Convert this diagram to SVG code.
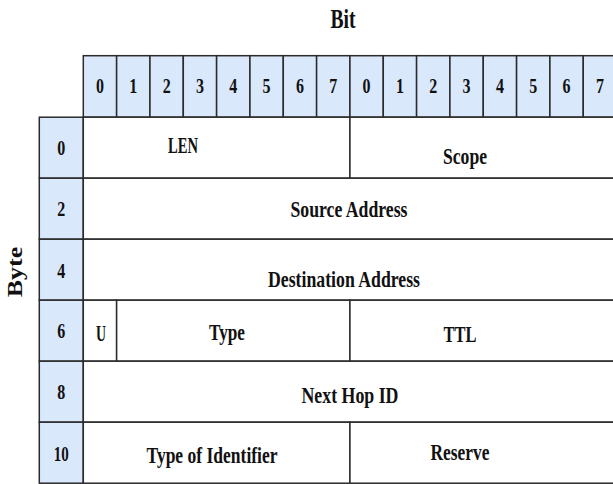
<svg xmlns="http://www.w3.org/2000/svg" width="613" height="484" viewBox="0 0 613 484">
<style>
.hd{fill:#dae8fc;stroke:#2b2b2b;stroke-width:1.5}
.fd{fill:#ffffff;stroke:#2b2b2b;stroke-width:1.5}
.t{font-family:"Liberation Serif","Times New Roman",serif;font-weight:bold;fill:#111;text-anchor:middle}
.d{font-size:20px}
.b{font-size:21px}
.f{font-size:23px}
</style>
<rect x="0" y="0" width="613" height="484" fill="#ffffff"/>
<text class="t" x="343" y="28" font-size="27" textLength="25" lengthAdjust="spacingAndGlyphs">Bit</text>
<text class="t" font-size="26" transform="translate(22,272) scale(0.8,1) rotate(-90)" x="0" y="0">Byte</text>
<g id="bit-header">
<g id="bit-0a"><rect class="hd" x="83.3" y="55.7" width="33.33" height="61.5"/><text class="t d" x="99.97" y="93" textLength="8" lengthAdjust="spacingAndGlyphs">0</text></g>
<g id="bit-1a"><rect class="hd" x="116.63" y="55.7" width="33.33" height="61.5"/><text class="t d" x="133.3" y="93" textLength="8" lengthAdjust="spacingAndGlyphs">1</text></g>
<g id="bit-2a"><rect class="hd" x="149.96" y="55.7" width="33.33" height="61.5"/><text class="t d" x="166.63" y="93" textLength="8" lengthAdjust="spacingAndGlyphs">2</text></g>
<g id="bit-3a"><rect class="hd" x="183.29" y="55.7" width="33.33" height="61.5"/><text class="t d" x="199.96" y="93" textLength="8" lengthAdjust="spacingAndGlyphs">3</text></g>
<g id="bit-4a"><rect class="hd" x="216.62" y="55.7" width="33.33" height="61.5"/><text class="t d" x="233.29" y="93" textLength="8" lengthAdjust="spacingAndGlyphs">4</text></g>
<g id="bit-5a"><rect class="hd" x="249.95" y="55.7" width="33.33" height="61.5"/><text class="t d" x="266.62" y="93" textLength="8" lengthAdjust="spacingAndGlyphs">5</text></g>
<g id="bit-6a"><rect class="hd" x="283.28" y="55.7" width="33.33" height="61.5"/><text class="t d" x="299.95" y="93" textLength="8" lengthAdjust="spacingAndGlyphs">6</text></g>
<g id="bit-7a"><rect class="hd" x="316.61" y="55.7" width="33.33" height="61.5"/><text class="t d" x="333.28" y="93" textLength="8" lengthAdjust="spacingAndGlyphs">7</text></g>
<g id="bit-0b"><rect class="hd" x="349.94" y="55.7" width="33.33" height="61.5"/><text class="t d" x="366.61" y="93" textLength="8" lengthAdjust="spacingAndGlyphs">0</text></g>
<g id="bit-1b"><rect class="hd" x="383.27" y="55.7" width="33.33" height="61.5"/><text class="t d" x="399.94" y="93" textLength="8" lengthAdjust="spacingAndGlyphs">1</text></g>
<g id="bit-2b"><rect class="hd" x="416.6" y="55.7" width="33.33" height="61.5"/><text class="t d" x="433.27" y="93" textLength="8" lengthAdjust="spacingAndGlyphs">2</text></g>
<g id="bit-3b"><rect class="hd" x="449.93" y="55.7" width="33.33" height="61.5"/><text class="t d" x="466.6" y="93" textLength="8" lengthAdjust="spacingAndGlyphs">3</text></g>
<g id="bit-4b"><rect class="hd" x="483.26" y="55.7" width="33.33" height="61.5"/><text class="t d" x="499.93" y="93" textLength="8" lengthAdjust="spacingAndGlyphs">4</text></g>
<g id="bit-5b"><rect class="hd" x="516.59" y="55.7" width="33.33" height="61.5"/><text class="t d" x="533.26" y="93" textLength="8" lengthAdjust="spacingAndGlyphs">5</text></g>
<g id="bit-6b"><rect class="hd" x="549.92" y="55.7" width="33.33" height="61.5"/><text class="t d" x="566.59" y="93" textLength="8" lengthAdjust="spacingAndGlyphs">6</text></g>
<g id="bit-7b"><rect class="hd" x="583.25" y="55.7" width="33.33" height="61.5"/><text class="t d" x="599.92" y="93" textLength="8" lengthAdjust="spacingAndGlyphs">7</text></g>
</g>
<g id="byte-header">
<g id="byte-0"><rect class="hd" x="39.3" y="117.2" width="44" height="61"/><text class="t b" x="61.3" y="155" textLength="8" lengthAdjust="spacingAndGlyphs">0</text></g>
<g id="byte-2"><rect class="hd" x="39.3" y="178.2" width="44" height="61"/><text class="t b" x="61.3" y="216" textLength="8" lengthAdjust="spacingAndGlyphs">2</text></g>
<g id="byte-4"><rect class="hd" x="39.3" y="239.2" width="44" height="61"/><text class="t b" x="61.3" y="278" textLength="8" lengthAdjust="spacingAndGlyphs">4</text></g>
<g id="byte-6"><rect class="hd" x="39.3" y="300.2" width="44" height="61"/><text class="t b" x="61.3" y="338" textLength="8" lengthAdjust="spacingAndGlyphs">6</text></g>
<g id="byte-8"><rect class="hd" x="39.3" y="361.2" width="44" height="61"/><text class="t b" x="61.3" y="399" textLength="8" lengthAdjust="spacingAndGlyphs">8</text></g>
<g id="byte-10"><rect class="hd" x="39.3" y="422.2" width="44" height="61"/><text class="t b" x="61.3" y="461" textLength="15" lengthAdjust="spacingAndGlyphs">10</text></g>
</g>
<g id="fields">
<g id="len"><rect class="fd" x="83.3" y="117.2" width="266.64" height="61"/><text class="t f" x="183" y="153" textLength="30" lengthAdjust="spacingAndGlyphs">LEN</text></g>
<g id="scope"><rect class="fd" x="349.94" y="117.2" width="266.64" height="61"/><text class="t f" x="465" y="164" textLength="44" lengthAdjust="spacingAndGlyphs">Scope</text></g>
<g id="source-address"><rect class="fd" x="83.3" y="178.2" width="533.28" height="61"/><text class="t f" x="349" y="217" textLength="117" lengthAdjust="spacingAndGlyphs">Source Address</text></g>
<g id="destination-address"><rect class="fd" x="83.3" y="239.2" width="533.28" height="61"/><text class="t f" x="344" y="287" textLength="152" lengthAdjust="spacingAndGlyphs">Destination Address</text></g>
<g id="u"><rect class="fd" x="83.3" y="300.2" width="33.33" height="61"/><text class="t f" x="101" y="341" textLength="10" lengthAdjust="spacingAndGlyphs">U</text></g>
<g id="type"><rect class="fd" x="116.63" y="300.2" width="233.31" height="61"/><text class="t f" x="227" y="340" textLength="36" lengthAdjust="spacingAndGlyphs">Type</text></g>
<g id="ttl"><rect class="fd" x="349.94" y="300.2" width="266.64" height="61"/><text class="t f" x="460" y="342" textLength="33" lengthAdjust="spacingAndGlyphs">TTL</text></g>
<g id="next-hop-id"><rect class="fd" x="83.3" y="361.2" width="533.28" height="61"/><text class="t f" x="350" y="403" textLength="97" lengthAdjust="spacingAndGlyphs">Next Hop ID</text></g>
<g id="type-of-identifier"><rect class="fd" x="83.3" y="422.2" width="266.64" height="61"/><text class="t f" x="212" y="463" textLength="131" lengthAdjust="spacingAndGlyphs">Type of Identifier</text></g>
<g id="reserve"><rect class="fd" x="349.94" y="422.2" width="266.64" height="61"/><text class="t f" x="460" y="460" textLength="59" lengthAdjust="spacingAndGlyphs">Reserve</text></g>
</g>
<g id="connectors"></g>
</svg>
